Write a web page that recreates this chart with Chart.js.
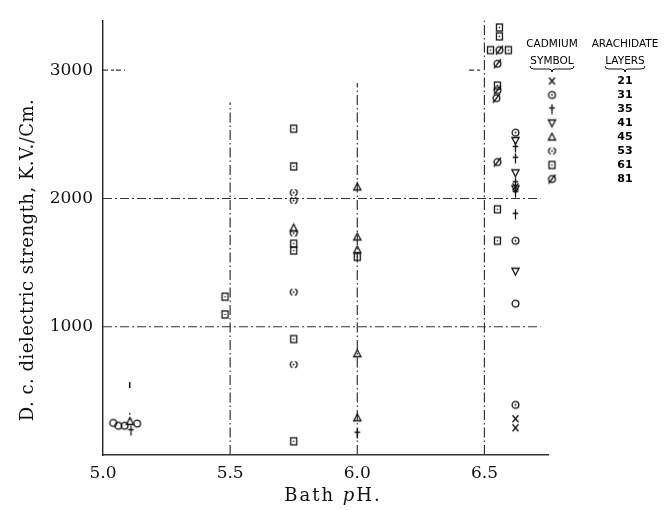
<!DOCTYPE html>
<html>
<head>
<meta charset="utf-8">
<script src="https://cdn.jsdelivr.net/npm/chart.js@4.4.1/dist/chart.umd.min.js"></script>
<style>
  html, body { margin: 0; padding: 0; background: #fff; }
  #wrap { width: 667px; height: 510px; }
</style>
</head>
<body>
<div id="wrap"><canvas id="chart" width="667" height="510"></canvas></div>
<script>
// ── data ────────────────────────────────────────────────────────────
const xTicks = [5.0, 5.5, 6.0, 6.5];
const yTicks = [1000, 2000, 3000];

// cadmium arachidate layers -> symbol
const layers = ['21', '31', '35', '41', '45', '53', '61', '81'];

const ph21 = [6.622, 6.622, 6.622];
const kv21 = [2090, 283, 212];
const ph31 = [6.622, 6.622, 6.622];
const kv31 = [2513, 1670, 391];
const ph35 = [6.622, 6.622, 6.622, 6.622, 6.622, 6.0, 5.11];
const kv35 = [2398, 2314, 2123, 2046, 1877, 170, 190];
const ph41 = [6.622, 6.622, 6.622, 6.622];
const kv41 = [2452, 2200, 2075, 1433];
const ph45 = [6.0, 6.0, 6.0, 6.0, 6.0, 5.75, 5.106];
const kv45 = [2090, 1700, 1600, 790, 290, 1770, 262];
const ph53 = [5.75, 5.75, 5.75, 5.75, 5.75];
const kv53 = [2046, 1985, 1730, 1270, 705];
const ph61 = [5.48, 5.48, 5.75, 5.75, 5.75, 5.75, 5.75, 5.75, 6.0, 6.559, 6.559, 6.524, 6.594, 6.551, 6.551, 6.551];
const kv61 = [1234, 1096, 2544, 2250, 1648, 1594, 904, 107, 1545, 3333, 3264, 3157, 3157, 2880, 1916, 1670];
const ph81 = [6.559, 6.551, 6.551, 6.547, 6.551];
const kv81 = [3157, 3050, 2845, 2782, 2284];
// plain open circles (not in the key)
const phO = [5.04, 5.06, 5.085, 5.134, 6.622];
const kvO = [250, 228, 228, 245, 1180];
// little dotted stem over the pH 5.1 cluster
const phStem = [5.105, 5.105];
const kvStem = [275, 350];
const phStemTop = [5.105];
const kvStemTop = [545];

// dash-dot guide lines
const hGuides = [1000, 2000];
const hGuideEnd = 6.72;
const vGuides = [5.5, 6.0, 6.5];
const vGuideTops = [2750, 2900, 3390];
const shortTicks = [[5.0, 5.087, 3000], [6.44, 6.49, 3000]];

const INK = '#111';
const LINE = '#333';

// ── symbol sprites ──────────────────────────────────────────────────
function sym(kind) {
  const c = document.createElement('canvas');
  c.width = 11; c.height = 11;
  const g = c.getContext('2d');
  g.strokeStyle = INK; g.fillStyle = INK; g.lineWidth = 1.3;
  const m = 5.5;
  g.beginPath();
  if (kind === 'x') {
    g.moveTo(m - 3, m - 3.5); g.lineTo(m + 3, m + 3.5);
    g.moveTo(m + 3, m - 3.5); g.lineTo(m - 3, m + 3.5);
    g.stroke();
  } else if (kind === 'odot' || kind === 'circ' || kind === 'slash') {
    g.arc(m, m, 3.4, 0, Math.PI * 2); g.stroke();
    if (kind === 'odot') { g.beginPath(); g.arc(m, m, 0.9, 0, Math.PI * 2); g.fill(); }
    if (kind === 'slash') { g.beginPath(); g.moveTo(m - 3.5, m + 4.5); g.lineTo(m + 3.5, m - 4.5); g.stroke(); }
  } else if (kind === 'plus') {
    g.moveTo(m, m - 5); g.lineTo(m, m + 5);
    g.moveTo(m - 2.8, m - 1); g.lineTo(m + 2.8, m - 1);
    g.stroke();
  } else if (kind === 'tup') {
    g.moveTo(m, m - 3.8); g.lineTo(m + 3.6, m + 3); g.lineTo(m - 3.6, m + 3); g.closePath(); g.stroke();
  } else if (kind === 'tdown') {
    g.moveTo(m, m + 3.8); g.lineTo(m + 3.6, m - 3); g.lineTo(m - 3.6, m - 3); g.closePath(); g.stroke();
  } else if (kind === 'paren') {
    g.arc(m, m, 3.4, Math.PI * 0.62, Math.PI * 1.38); g.stroke();
    g.beginPath(); g.arc(m, m, 3.4, -Math.PI * 0.38, Math.PI * 0.38); g.stroke();
    g.beginPath(); g.arc(m, m, 0.9, 0, Math.PI * 2); g.fill();
  } else if (kind === 'sqdot') {
    g.strokeRect(m - 3, m - 3.5, 6, 7);
    g.beginPath(); g.arc(m, m, 0.8, 0, Math.PI * 2); g.fill();
  }
  return c;
}

const symbols = {
  '21': sym('x'), '31': sym('odot'), '35': sym('plus'), '41': sym('tdown'),
  '45': sym('tup'), '53': sym('paren'), '61': sym('sqdot'), '81': sym('slash')
};

const pts = (xs, ys) => xs.map((x, i) => ({ x, y: ys[i] }));

const markerSet = (label, xs, ys, style) => ({
  label, data: pts(xs, ys), pointStyle: style, pointRadius: 5, showLine: false, order: 1
});
const guide = (data, dash) => ({
  label: 'guide', data, showLine: true, pointRadius: 0, borderColor: LINE,
  borderWidth: 1.2, borderDash: dash || [9, 3, 2, 3], order: 2
});

const datasets = [
  markerSet('21', ph21, kv21, symbols['21']),
  markerSet('31', ph31, kv31, symbols['31']),
  markerSet('35', ph35, kv35, symbols['35']),
  markerSet('41', ph41, kv41, symbols['41']),
  markerSet('45', ph45, kv45, symbols['45']),
  markerSet('53', ph53, kv53, symbols['53']),
  markerSet('61', ph61, kv61, symbols['61']),
  markerSet('81', ph81, kv81, symbols['81']),
  markerSet('open', phO, kvO, sym('circ')),
  guide(pts(phStem, kvStem), [2, 3]),
  { label: 'stemTop', data: pts(phStemTop, kvStemTop), pointStyle: 'line', rotation: 90,
    pointRadius: 3, borderColor: INK, borderWidth: 1.5, showLine: false, order: 1 },
];
hGuides.forEach(v => datasets.push(guide([{ x: 5.0, y: v }, { x: hGuideEnd, y: v }])));
vGuides.forEach((v, i) => datasets.push(guide([{ x: v, y: 0 }, { x: v, y: vGuideTops[i] }], [10, 3, 1.5, 3])));
shortTicks.forEach(t => datasets.push(guide([{ x: t[0], y: t[2] }, { x: t[1], y: t[2] }], [5, 3, 3, 2])));

// ── titles and the symbol key, drawn on top ─────────────────────────
const annotations = {
  id: 'annotations',
  afterDraw(chart) {
    const ctx = chart.ctx;
    ctx.save();
    ctx.fillStyle = INK;
    // y title
    ctx.font = '18px "DejaVu Serif"';
    ctx.letterSpacing = '0.5px';
    ctx.translate(28, 260);
    ctx.rotate(-Math.PI / 2);
    ctx.textAlign = 'center';
    ctx.textBaseline = 'middle';
    ctx.fillText('D. c. dielectric strength, K.V./Cm.', 0, 0);
    ctx.restore();

    // x title with italic p
    ctx.save();
    ctx.fillStyle = INK;
    ctx.textBaseline = 'middle';
    ctx.letterSpacing = '2px';
    const parts = [['Bath ', '18px "DejaVu Serif"'], ['p', 'italic 18px "DejaVu Serif"'], ['H.', '18px "DejaVu Serif"']];
    let w = 0;
    parts.forEach(p => { ctx.font = p[1]; w += ctx.measureText(p[0]).width; });
    let x = 333 - w / 2;
    parts.forEach(p => { ctx.font = p[1]; ctx.fillText(p[0], x, 496); x += ctx.measureText(p[0]).width; });
    ctx.restore();

    // key table
    ctx.save();
    ctx.fillStyle = '#000';
    const colSym = 552, colNum = 625;
    ctx.font = '10.5px "DejaVu Sans"';
    ctx.textAlign = 'center';
    ctx.textBaseline = 'middle';
    ctx.fillText('CADMIUM', colSym, 44);
    ctx.fillText('ARACHIDATE', colNum, 44);
    ctx.fillText('SYMBOL', colSym, 61);
    ctx.fillText('LAYERS', colNum, 61);
    ctx.strokeStyle = INK; ctx.lineWidth = 1;
    [[colSym, 22], [colNum, 20]].forEach(([cx, hw]) => {
      const y0 = 66;
      ctx.beginPath();
      ctx.moveTo(cx - hw, y0);
      ctx.quadraticCurveTo(cx - hw, y0 + 3, cx - hw + 4, y0 + 3);
      ctx.lineTo(cx - 3, y0 + 3);
      ctx.quadraticCurveTo(cx, y0 + 3, cx, y0 + 6);
      ctx.quadraticCurveTo(cx, y0 + 3, cx + 3, y0 + 3);
      ctx.lineTo(cx + hw - 4, y0 + 3);
      ctx.quadraticCurveTo(cx + hw, y0 + 3, cx + hw, y0);
      ctx.stroke();
    });
    ctx.font = 'bold 11px "DejaVu Sans"';
    layers.forEach((l, i) => {
      const y = 81 + i * 14;
      const s = symbols[l];
      ctx.drawImage(s, colSym - s.width / 2, y - s.height / 2);
      ctx.fillText(l, colNum, y);
    });
    ctx.restore();
  }
};

new Chart(document.getElementById('chart'), {
  type: 'scatter',
  data: { datasets },
  plugins: [annotations],
  options: {
    responsive: false,
    animation: false,
    layout: { padding: { top: 13, right: 119, left: 0, bottom: 0 } },
    plugins: { legend: { display: false }, tooltip: { enabled: false } },
    scales: {
      x: {
        type: 'linear', min: 5.0, max: 6.75,
        afterBuildTicks: s => { s.ticks = xTicks.map(v => ({ value: v })); },
        afterFit: s => { s.height = 55; },
        ticks: { callback: v => v.toFixed(1), font: { family: 'DejaVu Serif', size: 17 }, color: INK, padding: 8, maxRotation: 0, autoSkip: false },
        grid: { display: false, drawTicks: false },
        border: { display: true, color: LINE, width: 1.4, dash: [12, 3, 2, 3] }
      },
      y: {
        type: 'linear', min: 0, max: 3390,
        afterBuildTicks: s => { s.ticks = yTicks.map(v => ({ value: v })); },
        afterFit: s => { s.width = 103; },
        ticks: { callback: v => String(v), font: { family: 'DejaVu Serif', size: 17 }, color: INK, padding: 10 },
        grid: { display: false, drawTicks: false },
        border: { display: true, color: '#222', width: 1.4 }
      }
    }
  }
});
</script>
</body>
</html>
